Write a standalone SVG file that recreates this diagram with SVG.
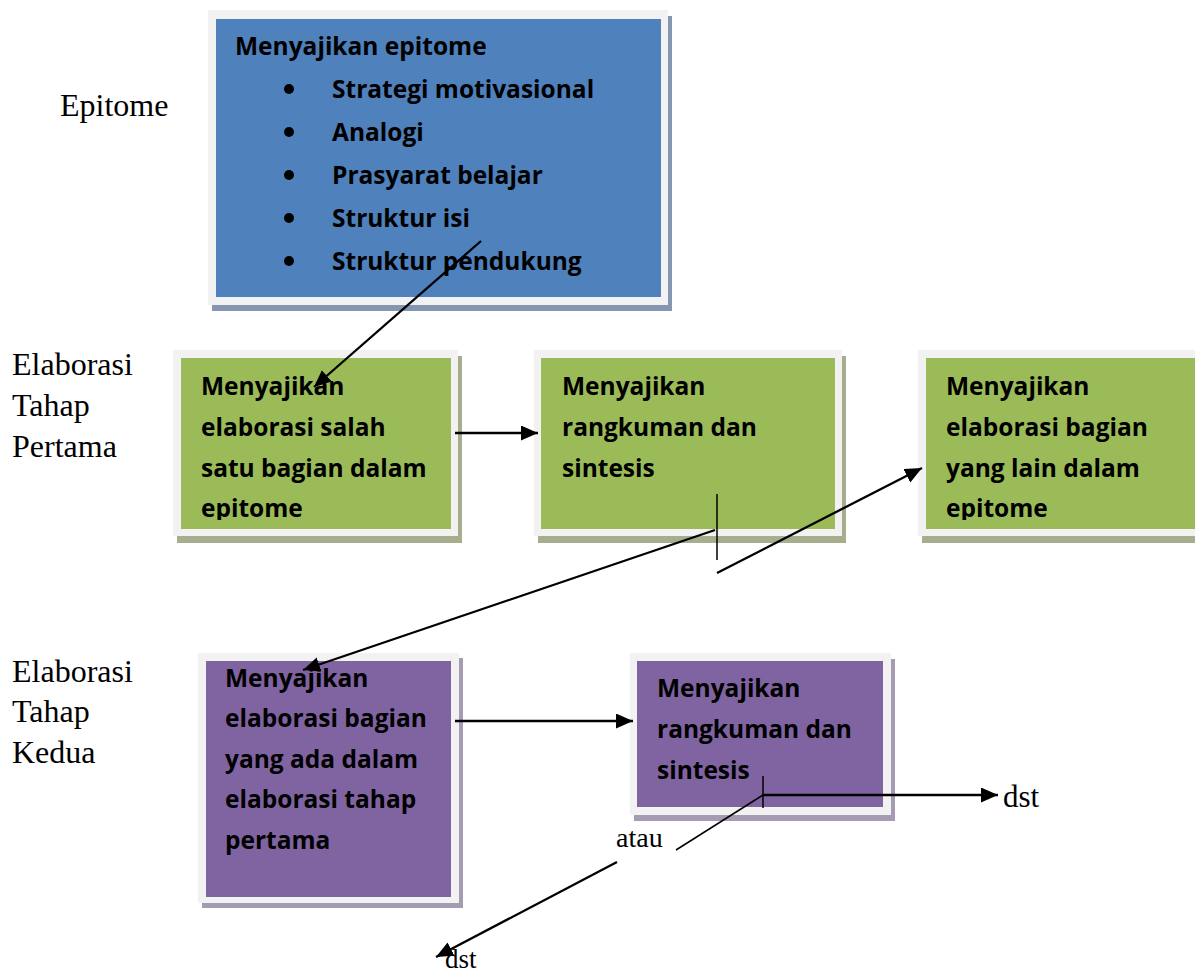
<svg xmlns="http://www.w3.org/2000/svg" width="1195" height="977" viewBox="0 0 1195 977">
<style>
.frame{fill:#f2f2f2}
.bt{font-family:"Open Sans","Liberation Sans",sans-serif;font-weight:700;font-size:24.5px;fill:#000}
.lbl{font-family:"Liberation Serif","Times New Roman",serif;font-size:32px;fill:#000}
.con{stroke:#000;stroke-width:2.3;fill:none}
.thin{stroke:#000;stroke-width:1.5;fill:none}
</style>
<defs>
<marker id="arr" markerUnits="userSpaceOnUse" markerWidth="18" markerHeight="16" refX="17" refY="7.5" orient="auto">
<path d="M0,0 L17,7.5 L0,15 z" fill="#000"/>
</marker>
<clipPath id="cg1"><rect x="181" y="358" width="270" height="162"/></clipPath>
<clipPath id="cg3"><rect x="926" y="358" width="269" height="162"/></clipPath>
</defs>
<rect width="1195" height="977" fill="#fff"/>

<g id="labels">
<text class="lbl" x="60" y="116">Epitome</text>
<text class="lbl" x="12" y="375">Elaborasi</text>
<text class="lbl" x="12" y="416">Tahap</text>
<text class="lbl" x="12" y="457">Pertama</text>
<text class="lbl" x="12" y="682">Elaborasi</text>
<text class="lbl" x="12" y="722">Tahap</text>
<text class="lbl" x="12" y="763">Kedua</text>
</g>

<g id="node-epitome">
<rect x="212" y="16" width="460" height="295" fill="#8597b0"/>
<rect class="frame" x="208" y="10" width="460" height="295"/>
<rect x="216" y="19" width="445" height="278" fill="#4f81bd"/>
<text class="bt" x="235" y="55">Menyajikan epitome</text>
<g fill="#000">
<circle cx="289" cy="89" r="5"/>
<circle cx="289" cy="132" r="5"/>
<circle cx="289" cy="175" r="5"/>
<circle cx="289" cy="218" r="5"/>
<circle cx="289" cy="261" r="5"/>
</g>
<text class="bt" x="332" y="98">Strategi motivasional</text>
<text class="bt" x="332" y="141">Analogi</text>
<text class="bt" x="332" y="184">Prasyarat belajar</text>
<text class="bt" x="332" y="227">Struktur isi</text>
<text class="bt" x="332" y="270">Struktur pendukung</text>
</g>

<g id="node-elab1">
<rect x="177" y="356" width="285" height="187" fill="#a6ae8e"/>
<rect class="frame" x="173" y="350" width="285" height="186"/>
<rect x="181" y="358" width="270" height="171" fill="#9bbb59"/>
<g clip-path="url(#cg1)">
<text class="bt" x="201" y="395">Menyajikan</text>
<text class="bt" x="201" y="436">elaborasi salah</text>
<text class="bt" x="201" y="477">satu bagian dalam</text>
<text class="bt" x="201" y="517">epitome</text>
</g>
</g>

<g id="node-rangkuman1">
<rect x="538" y="356" width="308" height="187" fill="#a6ae8e"/>
<rect class="frame" x="534" y="350" width="308" height="186"/>
<rect x="541" y="358" width="294" height="171" fill="#9bbb59"/>
<text class="bt" x="562" y="395">Menyajikan</text>
<text class="bt" x="562" y="436">rangkuman dan</text>
<text class="bt" x="562" y="477">sintesis</text>
</g>

<g id="node-elab-lain">
<rect x="922" y="356" width="308" height="187" fill="#a6ae8e"/>
<rect class="frame" x="918" y="350" width="308" height="186"/>
<rect x="926" y="358" width="294" height="171" fill="#9bbb59"/>
<g clip-path="url(#cg3)">
<text class="bt" x="946" y="395">Menyajikan</text>
<text class="bt" x="946" y="436">elaborasi bagian</text>
<text class="bt" x="946" y="477">yang lain dalam</text>
<text class="bt" x="946" y="517">epitome</text>
</g>
</g>

<g id="node-elab2">
<rect x="202" y="658" width="261" height="250" fill="#a59cb3"/>
<rect class="frame" x="198" y="653" width="261" height="250"/>
<rect x="206" y="661" width="245" height="236" fill="#8064a2"/>
<text class="bt" x="225" y="687">Menyajikan</text>
<text class="bt" x="225" y="727">elaborasi bagian</text>
<text class="bt" x="225" y="768">yang ada dalam</text>
<text class="bt" x="225" y="808">elaborasi tahap</text>
<text class="bt" x="225" y="849">pertama</text>
</g>

<g id="node-rangkuman2">
<rect x="634" y="659" width="261" height="162" fill="#a59cb3"/>
<rect class="frame" x="630" y="653" width="261" height="162"/>
<rect x="637" y="661" width="246" height="146" fill="#8064a2"/>
<text class="bt" x="657" y="697">Menyajikan</text>
<text class="bt" x="657" y="738">rangkuman dan</text>
<text class="bt" x="657" y="779">sintesis</text>
</g>

<g id="connectors">
<line class="con" x1="481" y1="241" x2="314" y2="387" marker-end="url(#arr)"/>
<line class="con" x1="455" y1="433" x2="538" y2="433" marker-end="url(#arr)"/>
<line class="thin" x1="717" y1="494" x2="717" y2="560"/>
<line class="con" x1="715" y1="530" x2="303" y2="670" marker-end="url(#arr)"/>
<line class="con" x1="717" y1="573" x2="922" y2="468" marker-end="url(#arr)"/>
<line class="con" x1="455" y1="721" x2="633" y2="721" marker-end="url(#arr)"/>
<line class="thin" x1="763" y1="776" x2="763" y2="808"/>
<line class="con" x1="763" y1="795" x2="998" y2="795" marker-end="url(#arr)"/>
<line class="thin" x1="763" y1="795" x2="676" y2="850"/>
<line class="con" x1="617" y1="862" x2="436" y2="957" marker-end="url(#arr)"/>
</g>

<g id="connector-labels">
<text class="lbl" x="1003" y="807" style="font-size:31px">dst</text>
<text class="lbl" x="616" y="847" style="font-size:28px">atau</text>
<text class="lbl" x="445" y="968" style="font-size:27px">dst</text>
</g>
</svg>
